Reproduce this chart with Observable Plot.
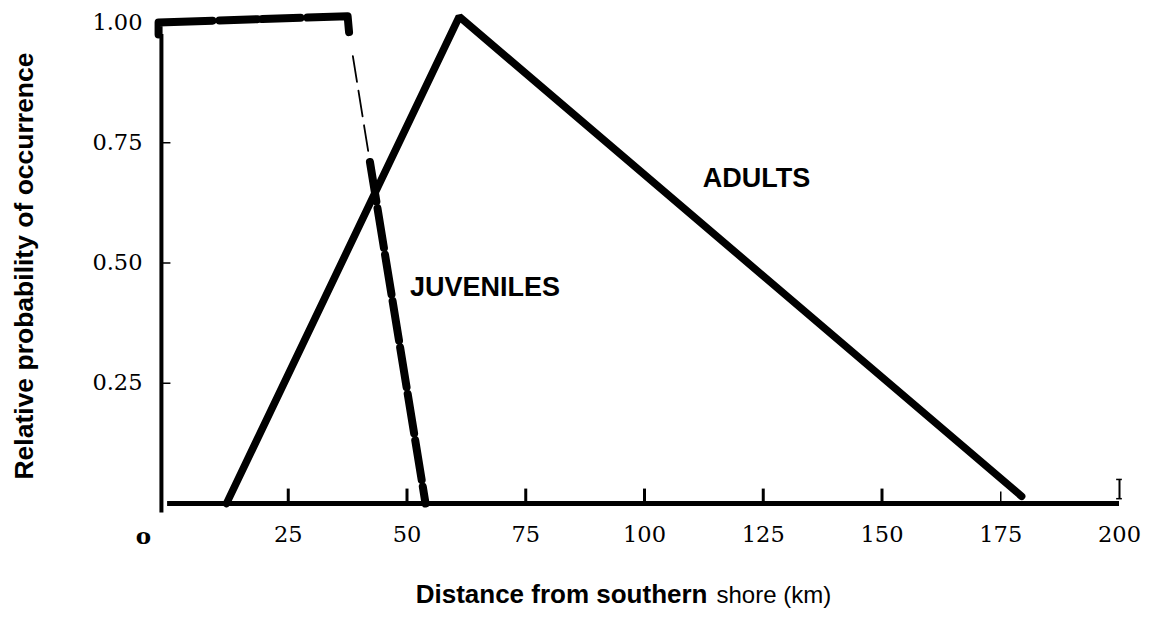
<!DOCTYPE html>
<html>
<head>
<meta charset="utf-8">
<script src="https://cdn.jsdelivr.net/npm/d3@7"></script>
<script src="https://cdn.jsdelivr.net/npm/@observablehq/plot@0.6"></script>
<style>
  html, body { margin: 0; padding: 0; background: #fff; }
  svg { display: block; }
</style>
</head>
<body>
<div id="chart"></div>
<script>
// ---- data ----
const xTicks = [25, 50, 75, 100, 125, 150, 175, 200];
const xTickLabels = ["25", "50", "75", "100", "125", "150", "175", "200"];
const yTicks = [0.25, 0.5, 0.75, 1.0];
const yTickLabels = ["0.25", "0.50", "0.75", "1.00"];

// Adults (solid line)
const adultsX = [12, 61, 179.4];
const adultsY = [0, 1.012, 0.015];

// Juveniles (dashed line): upper plateau, thin middle part, thick lower part
const juvUpperX = [-2.3, -2.3, 37.5, 37.8];
const juvUpperY = [0.975, 1.0, 1.013, 0.98];
const juvMidX = [38.6, 42.2];
const juvMidY = [0.93, 0.71];
const juvLowX = [42.2, 53.9];
const juvLowY = [0.71, 0];

const seriesLabels = ["ADULTS", "JUVENILES"];
const seriesLabelX = [123.6, 66.4];
const seriesLabelY = [0.676, 0.449];

// ---- build ----
const zip = (xs, ys) => xs.map((x, i) => ({x, y: ys[i]}));
const adults = zip(adultsX, adultsY);
const juvUpper = zip(juvUpperX, juvUpperY);
const juvMid = zip(juvMidX, juvMidY);
const juvLow = zip(juvLowX, juvLowY);
const labelRows = seriesLabels.map((t, i) => ({t, x: seriesLabelX[i], y: seriesLabelY[i]}));

const serif = "'DejaVu Serif', 'Liberation Serif', serif";
const sans = "'Liberation Sans', Arial, sans-serif";

const chart = Plot.plot({
  width: 1167,
  height: 622,
  marginLeft: 169,
  marginRight: 48,
  marginTop: 22,
  marginBottom: 119,
  x: {domain: [0, 200]},
  y: {domain: [0, 1]},
  axis: null,
  style: {background: "white", overflow: "visible"},
  marks: [
    // axes lines
    Plot.ruleY([0], {x1: -0.4, x2: 200, stroke: "black", strokeWidth: 5}),
    Plot.ruleX([-1.7], {y1: -0.02, y2: 0.975, stroke: "black", strokeWidth: 4}),
    // x ticks (pointing up into the plot)
    Plot.ruleX(xTicks.filter(d => d <= 150), {y1: 0, y2: 0.03, stroke: "black", strokeWidth: 3}),
    Plot.ruleX(xTicks.filter(d => d === 175), {y1: 0, y2: 0.024, stroke: "black", strokeWidth: 1.5}),
    Plot.ruleX(xTicks.filter(d => d === 200), {y1: 0.01, y2: 0.05, stroke: "black", strokeWidth: 2}),
    Plot.ruleY([0.01, 0.05], {x1: 199.4, x2: 200.6, stroke: "black", strokeWidth: 1.5}),
    // y ticks (pointing right)
    Plot.ruleY(yTicks.filter(d => d < 1), {x1: -1.7, x2: 0.3, stroke: "black", strokeWidth: 1.5}),
    // x tick labels
    Plot.text(xTicks, {x: d => d, y: 0, text: (d, i) => xTickLabels[i], dy: 31, fontSize: 22.5, fontFamily: serif, fill: "black"}),
    Plot.text(["o"], {x: 0, y: 0, text: d => d, dx: -26, dy: 33, fontSize: 23, fontWeight: "bold", fontFamily: serif, fill: "black"}),
    // y tick labels
    Plot.text(yTicks, {x: 0, y: d => d, text: (d, i) => yTickLabels[i], textAnchor: "end", dx: -27, fontSize: 22.5, fontFamily: serif, fill: "black", fontWeight: d => d === 1 ? "bold" : "normal"}),
    // series
    Plot.line(adults, {x: "x", y: "y", stroke: "black", strokeWidth: 7.5, strokeLinejoin: "miter", strokeLinecap: "round"}),
    Plot.line(juvUpper, {x: "x", y: "y", stroke: "black", strokeWidth: 8, strokeDasharray: "66 7 38 5 38 7 60", strokeLinejoin: "round"}),
    Plot.line(juvMid, {x: "x", y: "y", stroke: "black", strokeWidth: 1.8, strokeDasharray: "26 9"}),
    Plot.line(juvLow, {x: "x", y: "y", stroke: "black", strokeWidth: 8, strokeDasharray: "40 7"}),
    // series labels
    Plot.text(labelRows, {x: "x", y: "y", text: "t", fontSize: 27, fontWeight: "bold", fontFamily: sans, fill: "black"}),
    // axis titles
    Plot.text(["Relative probability of occurrence"], {frameAnchor: "left", textAnchor: "middle", text: d => d, rotate: -90, dx: -145, dy: 3, fontSize: 26.5, fontWeight: "bold", fontFamily: sans, fill: "black"}),
    Plot.text(["Distance from southern"], {frameAnchor: "bottom", text: d => d, textAnchor: "end", dx: 63, dy: 99, fontSize: 26, fontWeight: "bold", fontFamily: sans, fill: "black"}),
    Plot.text(["shore (km)"], {frameAnchor: "bottom", text: d => d, textAnchor: "start", dx: 72, dy: 99, fontSize: 24, fontFamily: sans, fill: "black"})
  ]
});
document.getElementById("chart").appendChild(chart);
</script>
</body>
</html>
